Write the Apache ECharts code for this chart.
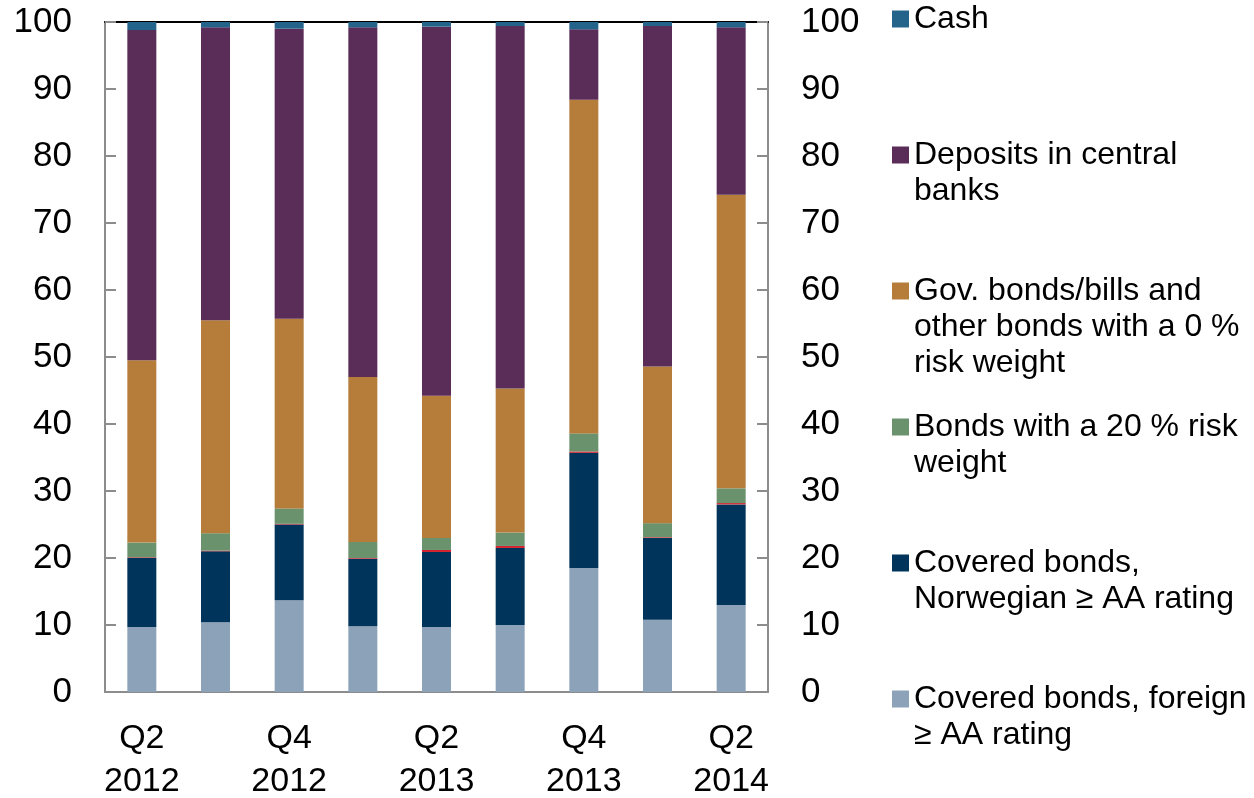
<!DOCTYPE html>
<html>
<head>
  <meta charset="utf-8">
  <script src="https://cdn.jsdelivr.net/npm/echarts@6/dist/echarts.min.js"></script>
  <title>Liquid assets composition</title>
  <style>
    html, body { margin: 0; padding: 0; background: #fff; }
    #chart { width: 1254px; height: 798px; }
  </style>
</head>
<body>
  <div id="chart"></div>

  <script>
    // quarters, shown two lines each
    const categories = [
      "Q2\n2012", "Q3\n2012", "Q4\n2012", "Q1\n2013", "Q2\n2013",
      "Q3\n2013", "Q4\n2013", "Q1\n2014", "Q2\n2014",
    ];
    const yTicks = [0, 10, 20, 30, 40, 50, 60, 70, 80, 90, 100];

    // per cent of total, bottom of stack first
    const coveredForeign = [9.7, 10.4, 13.7, 9.8, 9.7, 10.0, 18.5, 10.8, 13.0];
    const coveredNorwegian = [10.3, 10.6, 11.3, 10.1, 11.2, 11.5, 17.2, 12.2, 15.0];
    const otherSmall = [0.1, 0.1, 0.1, 0.1, 0.3, 0.3, 0.2, 0.1, 0.2];
    const risk20 = [2.2, 2.6, 2.3, 2.4, 1.8, 2.0, 2.7, 2.1, 2.2];
    const govBonds = [27.2, 31.8, 28.3, 24.6, 21.2, 21.5, 49.8, 23.4, 43.8];
    const deposits = [49.3, 43.7, 43.3, 52.2, 55.1, 54.1, 10.5, 50.8, 25.0];
    const cash = [1.2, 0.8, 1.0, 0.8, 0.7, 0.6, 1.1, 0.6, 0.8];

    const font = "Liberation Sans, Arial, sans-serif";
    const grey = "#8c8c8c";

    const seriesDefs = [
      { name: "Covered bonds, foreign\n≥ AA rating", data: coveredForeign, color: "#8ba2b8" },
      { name: "Covered bonds,\nNorwegian ≥ AA rating", data: coveredNorwegian, color: "#00345a" },
      { name: "Other", data: otherSmall, color: "#d3212d" },
      { name: "Bonds with a 20 % risk\nweight", data: risk20, color: "#6a936d" },
      { name: "Gov. bonds/bills and\nother bonds with a 0 %\nrisk weight", data: govBonds, color: "#b57c3a" },
      { name: "Deposits in central\nbanks", data: deposits, color: "#5a2c58" },
      { name: "Cash", data: cash, color: "#24648a" },
    ];

    // one legend per entry so the first lines sit on an even step;
    // blank lines in front keep the marker level with the first line
    const legendOrder = [6, 5, 4, 3, 1, 0];
    const lineH = 36;
    const legends = legendOrder.map((idx, i) => {
      const name = seriesDefs[idx].name;
      const n = name.split("\n").length;
      const center = 19 + i * 136;
      return {
        data: [name],
        orient: "vertical",
        left: 892,
        top: center - ((2 * n - 1) * lineH) / 2,
        padding: 0,
        itemWidth: 17,
        itemHeight: 17,
        icon: "rect",
        selectedMode: false,
        formatter: (nm) => "\n".repeat(n - 1) + nm,
        textStyle: {
          fontFamily: font,
          fontSize: 32,
          color: "#000",
          lineHeight: lineH,
        },
      };
    });

    const chart = echarts.init(document.getElementById("chart"));

    const option = {
      animation: false,
      legend: legends,
      grid: {
        left: 105, right: 486, top: 22, bottom: 106,
        containLabel: false, outerBoundsMode: "none",
      },
      xAxis: [
        {
          type: "category",
          data: categories,
          axisLine: { onZero: false, lineStyle: { color: grey, width: 2 } },
          axisTick: { show: false },
          axisLabel: {
            interval: 1,
            fontFamily: font,
            fontSize: 34,
            color: "#000",
            lineHeight: 43,
            margin: 25,
          },
        },
        {
          type: "category",
          data: categories,
          position: "top",
          axisLine: { onZero: false, lineStyle: { color: "#000", width: 2 } },
          axisTick: { show: false },
          axisLabel: { show: false },
        },
      ],
      yAxis: [0, 1].map((k) => ({
        type: "value",
        min: yTicks[0],
        max: yTicks[yTicks.length - 1],
        interval: 10,
        position: k === 0 ? "left" : "right",
        axisLine: { show: true, lineStyle: { color: grey, width: 2 } },
        axisTick: { show: true, inside: true, length: 11, lineStyle: { color: grey, width: 2 } },
        splitLine: { show: false },
        axisLabel: {
          fontFamily: font,
          fontSize: 35,
          color: "#000",
          margin: 33,
        },
      })),
      series: seriesDefs.map((s) => ({
        name: s.name,
        type: "bar",
        stack: "total",
        barWidth: 29,
        data: s.data,
        itemStyle: { color: s.color },
      })),
    };

    chart.setOption(option);
    window.addEventListener("resize", () => chart.resize());
  </script>
</body>
</html>
